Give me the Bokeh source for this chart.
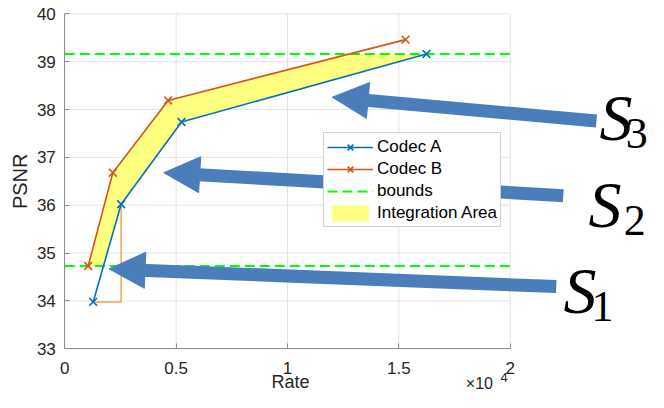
import numpy as np
from bokeh.plotting import figure
from bokeh.models import (Range1d, FixedTicker, CustomJSTickFormatter, Legend, LegendItem,
                          Arrow, NormalHead, Label)
from bokeh.embed import file_html
from bokeh.resources import INLINE

# ---- data ----
codec_a_rate = [1275, 2530, 5240, 16240]
codec_a_psnr = [33.98, 36.02, 37.74, 39.16]
codec_b_rate = [1050, 2156, 4640, 15300]
codec_b_psnr = [34.73, 36.68, 38.19, 39.46]

x_ticks = [0, 5000, 10000, 15000, 20000]
y_ticks = [33, 34, 35, 36, 37, 38, 39, 40]

# annotation arrows: (tip x, tip y, tail x, tail y) in data units
arrows = [
    (12007, 38.257, 23874, 37.76),
    (4443, 36.68, 22383, 36.20),
    (1988, 34.67, 22068, 34.30),
]
# S labels (vertical text centres): (S x, S y, subscript, sub x, sub y)
s_labels = [
    (24010, 37.831, "3", 25183, 37.503),
    (23515, 36.020, "2", 25097, 35.686),
    (22394, 34.217, "1", 23651, 33.874),
]

# ---- derived: bounds and integration area ----
lo = max(min(codec_a_psnr), min(codec_b_psnr))
hi = min(max(codec_a_psnr), max(codec_b_psnr))


def clip_curve(rate, psnr, lo, hi):
    r = np.asarray(rate, float)
    q = np.asarray(psnr, float)
    xs = [float(np.interp(lo, q, r))]
    ys = [lo]
    inside = (q > lo) & (q < hi)
    xs += list(r[inside])
    ys += list(q[inside])
    xs.append(float(np.interp(hi, q, r)))
    ys.append(hi)
    return xs, ys


bx, by = clip_curve(codec_b_rate, codec_b_psnr, lo, hi)
ax_, ay_ = clip_curve(codec_a_rate, codec_a_psnr, lo, hi)
area_x = bx + ax_[::-1]
area_y = by + ay_[::-1]

BLUE = "#0072BD"
ORANGE = "#D95319"
GRID = "#e3e3e3"
AXC = "#8c8c8c"
TXT = "#262626"
ARROW = "#4A7EBB"
FONT = "Liberation Sans"

p = figure(width=648, height=392, title=None,
           x_range=Range1d(-2887, 26210), y_range=Range1d(32.087, 40.278),
           output_backend="svg", toolbar_location=None,
           min_border=0, min_border_left=0, min_border_right=0,
           min_border_top=0, min_border_bottom=0)
p.outline_line_color = None
p.xgrid.visible = False
p.ygrid.visible = False
p.background_fill_color = "white"
p.border_fill_color = "white"

# grid + box (limited to the axes area)
p.segment(x0=x_ticks, y0=y_ticks[0], x1=x_ticks, y1=y_ticks[-1],
          line_color=GRID, line_width=1)
p.segment(x0=x_ticks[0], y0=y_ticks, x1=x_ticks[-1], y1=y_ticks,
          line_color=GRID, line_width=1)

area_r = p.patch(area_x, area_y, fill_color="#FFFF80", line_color=None)
p.step(codec_a_rate[:2], codec_a_psnr[:2], mode="after",
       line_color="#F5A04E", line_width=1.5)
bounds_r = p.segment(x0=x_ticks[0], x1=x_ticks[-1], y0=[lo, hi], y1=[lo, hi],
                     line_color="#00FF00", line_width=2, line_dash="10 5")

la = p.line(codec_a_rate, codec_a_psnr, line_color=BLUE, line_width=1.6)
sa = p.scatter(codec_a_rate, codec_a_psnr, marker="x", size=11,
               line_color=BLUE, line_width=1.6)
lb = p.line(codec_b_rate, codec_b_psnr, line_color=ORANGE, line_width=1.6)
sb = p.scatter(codec_b_rate, codec_b_psnr, marker="x", size=11,
               line_color=ORANGE, line_width=1.6)

# axes drawn inside the frame at the axes-box edges
p.xaxis.fixed_location = y_ticks[0]
p.yaxis.fixed_location = x_ticks[0]
p.xaxis.bounds = (x_ticks[0], x_ticks[-1])
p.yaxis.bounds = (y_ticks[0], y_ticks[-1])
p.xaxis.ticker = FixedTicker(ticks=x_ticks)
p.xaxis.formatter = CustomJSTickFormatter(code="return (tick/1e4).toString();")
p.yaxis.ticker = FixedTicker(ticks=y_ticks)
for axis in (p.xaxis, p.yaxis):
    axis.axis_line_color = AXC
    axis.major_tick_line_color = AXC
    axis.minor_tick_line_color = None
    axis.major_tick_in = 5
    axis.major_tick_out = 0
    axis.major_label_text_font = FONT
    axis.major_label_text_font_size = "17px"
    axis.major_label_text_color = TXT
    axis.axis_label = None
p.xaxis.major_label_standoff = 13
p.yaxis.major_label_standoff = 9

# axis labels and exponent (y values are vertical text centres)
p.add_layout(Label(x=-1989, y=36.5, text="PSNR", text_font=FONT, angle=np.pi / 2,
                   text_font_size="20px", text_color=TXT, text_align="center",
                   text_baseline="middle", level="overlay"))
p.add_layout(Label(x=10135, y=32.30, text="Rate", text_font=FONT,
                   text_font_size="18px", text_color=TXT, text_align="center",
                   text_baseline="middle", level="overlay"))
p.add_layout(Label(x=18006, y=32.27, text="\u00d710", text_font=FONT,
                   text_font_size="16px", text_color=TXT, text_align="left",
                   text_baseline="middle", level="overlay"))
p.add_layout(Label(x=19567, y=32.39, text="4", text_font=FONT,
                   text_font_size="13px", text_color=TXT, text_align="left",
                   text_baseline="middle", level="overlay"))

# legend
legend = Legend(items=[
    LegendItem(label="Codec A", renderers=[la, sa]),
    LegendItem(label="Codec B", renderers=[lb, sb]),
    LegendItem(label="bounds", renderers=[bounds_r]),
    LegendItem(label="Integration Area", renderers=[area_r]),
], location=(323, 165))
legend.label_text_font = FONT
legend.label_text_font_size = "17px"
legend.label_text_color = "#000000"
legend.glyph_width = 46
legend.glyph_height = 20
legend.label_height = 21
legend.label_standoff = 4
legend.spacing = 1
legend.padding = 3
legend.margin = 0
legend.border_line_color = "#a0a0a0"
legend.border_line_width = 1
legend.background_fill_color = "white"
legend.background_fill_alpha = 1
p.add_layout(legend)

# big annotation arrows (drawn over the legend)
for tx, ty, sx, sy in arrows:
    p.add_layout(Arrow(x_start=sx, y_start=sy, x_end=tx, y_end=ty,
                       line_color=ARROW, line_width=13,
                       end=NormalHead(size=36, fill_color=ARROW, line_color=ARROW,
                                      line_width=1),
                       level="overlay"))

for x, y, sub, subx, suby in s_labels:
    p.add_layout(Label(x=x, y=y, text="S", text_font="Liberation Serif",
                       text_font_style="italic", text_font_size="66px",
                       text_color="#000000", text_baseline="middle",
                       level="overlay"))
    p.add_layout(Label(x=subx, y=suby, text=sub, text_font="Liberation Serif",
                       text_font_size="44px", text_color="#000000",
                       text_baseline="middle", level="overlay"))

open("out.html", "w").write(file_html(p, INLINE))
